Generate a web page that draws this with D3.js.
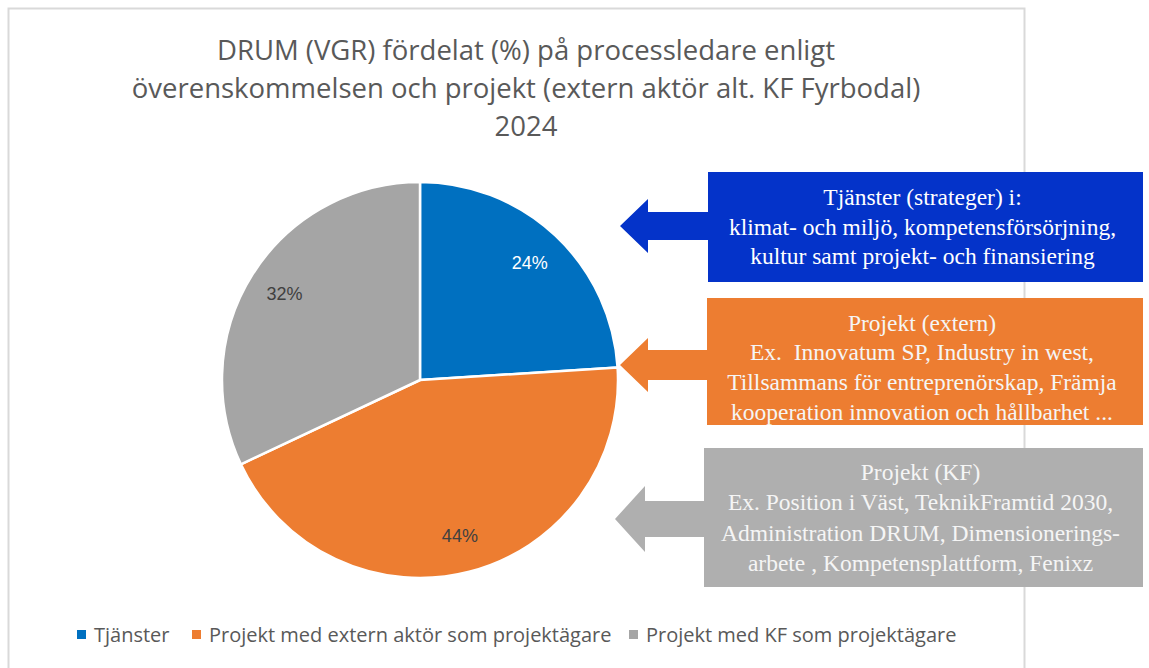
<!DOCTYPE html>
<html><head><meta charset="utf-8">
<script src="https://cdn.jsdelivr.net/npm/d3@7"></script>
<style>html,body{margin:0;padding:0;background:#fff;}svg{display:block;}</style>
</head><body>
<script>
const titleLines = ["DRUM (VGR) fördelat (%) på processledare enligt", "överenskommelsen och projekt (extern aktör alt. KF Fyrbodal)", "2024"];
const categories = ["Tjänster", "Projekt med extern aktör som projektägare", "Projekt med KF som projektägare"];
const values = [24, 44, 32];
const labels = ["24%", "44%", "32%"];
const colors = ["#0070C0", "#ED7D31", "#A5A5A5"];
const labelColors = ["#ffffff", "#404040", "#404040"];
const calloutTexts = [
  ["Tjänster (strateger) i:", "klimat- och miljö, kompetensförsörjning,", "kultur samt projekt- och finansiering"],
  ["Projekt (extern)", "Ex.  Innovatum SP, Industry in west,", "Tillsammans för entreprenörskap, Främja", "kooperation innovation och hållbarhet ..."],
  ["Projekt (KF)", "Ex. Position i Väst, TeknikFramtid 2030,", "Administration DRUM, Dimensionerings-", "arbete , Kompetensplattform, Fenixz"]
];
const calloutColors = ["#0433C9", "#ED7D31", "#AFAFAF"];

const W = 1149, H = 668;
const svg = d3.select("body").append("svg").attr("width", W).attr("height", H);
const sans = "Open Sans, Noto Sans, sans-serif";

// chart border
svg.append("rect").attr("x", 8.5).attr("y", 8.5).attr("width", 1016).attr("height", 670)
  .attr("fill", "#fff").attr("stroke", "#d9d9d9").attr("stroke-width", 2);

// title
svg.append("g").selectAll("text").data(titleLines).join("text")
  .attr("x", 526).attr("y", (d, i) => 60 + i * 38)
  .attr("text-anchor", "middle").attr("font-family", sans).attr("font-size", 27.5)
  .attr("fill", "#595959").text(d => d);

// pie
const cx = 420, cy = 380, R = 198;
const pie = d3.pie().sort(null).value(d => d)(values);
const arc = d3.arc().innerRadius(0).outerRadius(R);
const labelArc = d3.arc().innerRadius(R * 0.81).outerRadius(R * 0.81);
const g = svg.append("g").attr("transform", `translate(${cx},${cy})`);
g.selectAll("path").data(pie).join("path")
  .attr("d", arc).attr("fill", (d, i) => colors[i])
  .attr("stroke", "#fff").attr("stroke-width", 2.5).attr("stroke-linejoin", "round");
g.selectAll("text").data(pie).join("text")
  .attr("transform", d => `translate(${labelArc.centroid(d)})`)
  .attr("text-anchor", "middle").attr("dy", "0.35em")
  .attr("font-family", "Liberation Sans, Arial, sans-serif").attr("font-size", 18)
  .attr("fill", (d, i) => labelColors[i]).text((d, i) => labels[i]);

// legend
const legX = [77, 192, 629];
const lg = svg.append("g");
categories.forEach((c, i) => {
  lg.append("rect").attr("x", legX[i]).attr("y", 630).attr("width", 9).attr("height", 9).attr("fill", colors[i]);
  lg.append("text").attr("x", legX[i] + 17).attr("y", 642).attr("font-family", sans).attr("font-size", 20)
    .attr("fill", "#595959").text(c);
});

// callouts
const boxes = [
  {x: 708, y: 172, w: 435, h: 110, tip: 620, base: 648, cyA: 226, hh: 27, sh: 14, ly: [197, 227, 256]},
  {x: 707, y: 298, w: 436, h: 127, tip: 620, base: 648, cyA: 365, hh: 27, sh: 15, ly: [323, 352, 382, 412]},
  {x: 704, y: 448, w: 439, h: 139, tip: 615, base: 645, cyA: 519, hh: 33, sh: 18, ly: [472, 502, 533, 563]}
];
const defs = svg.append("defs");
boxes.forEach((b, i) => {
  const cg = svg.append("g");
  const p = d3.path();
  p.moveTo(b.tip, b.cyA);
  p.lineTo(b.base, b.cyA - b.hh);
  p.lineTo(b.base, b.cyA - b.sh);
  p.lineTo(b.x + 1, b.cyA - b.sh);
  p.lineTo(b.x + 1, b.cyA + b.sh);
  p.lineTo(b.base, b.cyA + b.sh);
  p.lineTo(b.base, b.cyA + b.hh);
  p.closePath();
  cg.append("path").attr("d", p.toString()).attr("fill", calloutColors[i]);
  cg.append("rect").attr("x", b.x).attr("y", b.y).attr("width", b.w).attr("height", b.h).attr("fill", calloutColors[i]);
  defs.append("clipPath").attr("id", "clip" + i).append("rect")
    .attr("x", b.x).attr("y", b.y).attr("width", b.w).attr("height", b.h);
  cg.append("g").attr("clip-path", `url(#clip${i})`).selectAll("text").data(calloutTexts[i]).join("text")
    .attr("x", b.x + b.w / 2 - 3).attr("y", (d, j) => b.ly[j]).attr("dy", "0.35em")
    .attr("text-anchor", "middle").attr("font-family", "Liberation Serif, DejaVu Serif, serif")
    .attr("font-size", 23.5).attr("fill", i === 0 ? "#ffffff" : "#f5f5f5").style("white-space", "pre").text(d => d);
});
</script>
</body></html>
